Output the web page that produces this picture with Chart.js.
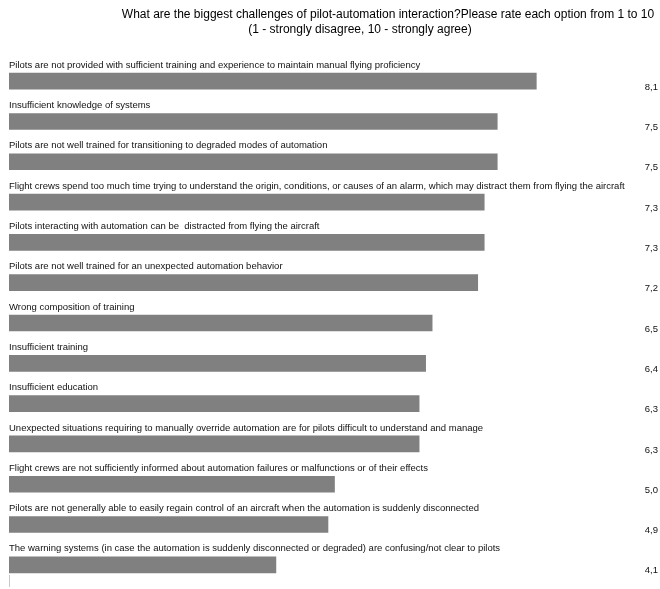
<!DOCTYPE html>
<html>
<head>
<meta charset="utf-8">
<script src="https://cdn.jsdelivr.net/npm/chart.js@4.4.0/dist/chart.umd.min.js"></script>
<style>
  html, body { margin: 0; padding: 0; background: #fff; }
  #wrap { width: 660px; height: 589px; position: relative; }
</style>
</head>
<body>
<div id="wrap"><canvas id="chart"></canvas></div>
<script>
const titleLines = [
    "What are the biggest challenges of pilot-automation interaction?Please rate each option from 1 to 10",
    "(1 - strongly disagree, 10 - strongly agree)"
];

const categories = [
    "Pilots are not provided with sufficient training and experience to maintain manual flying proficiency",
    "Insufficient knowledge of systems",
    "Pilots are not well trained for transitioning to degraded modes of automation",
    "Flight crews spend too much time trying to understand the origin, conditions, or causes of an alarm, which may distract them from flying the aircraft",
    "Pilots interacting with automation can be  distracted from flying the aircraft",
    "Pilots are not well trained for an unexpected automation behavior",
    "Wrong composition of training",
    "Insufficient training",
    "Insufficient education",
    "Unexpected situations requiring to manually override automation are for pilots difficult to understand and manage",
    "Flight crews are not sufficiently informed about automation failures or malfunctions or of their effects",
    "Pilots are not generally able to easily regain control of an aircraft when the automation is suddenly disconnected",
    "The warning systems (in case the automation is suddenly disconnected or degraded) are confusing/not clear to pilots"
];

const ratings = [8.1, 7.5, 7.5, 7.3, 7.3, 7.2, 6.5, 6.4, 6.3, 6.3, 5.0, 4.9, 4.1];

const barColor = "#808080";

// category text above each bar, value at the right, title on top
const labelPlugin = {
    id: "labelPlugin",
    afterDatasetsDraw(chart) {
        const ctx = chart.ctx;
        const meta = chart.getDatasetMeta(0);
        const area = chart.chartArea;
        ctx.save();

        ctx.fillStyle = "#000";
        ctx.font = "12px 'Liberation Sans', Arial, sans-serif";
        ctx.textAlign = "center";
        ctx.textBaseline = "middle";
        ctx.fillText(titleLines[0], 388, 15);
        ctx.fillText(titleLines[1], 360, 30);

        ctx.font = "9.5px 'Liberation Sans', Arial, sans-serif";
        meta.data.forEach((bar, i) => {
            ctx.fillStyle = "#111";
            ctx.textAlign = "left";
            ctx.fillText(categories[i], area.left, bar.y - 16);
            ctx.textAlign = "right";
            ctx.fillText(ratings[i].toFixed(1).replace(".", ","), 658, bar.y + 6);
        });

        // short axis stub under the last bar
        ctx.strokeStyle = "#c8c8c8";
        ctx.lineWidth = 1;
        ctx.beginPath();
        ctx.moveTo(area.left + 0.5, area.bottom - 10);
        ctx.lineTo(area.left + 0.5, area.bottom + 2);
        ctx.stroke();

        ctx.restore();
    }
};

new Chart(document.getElementById("chart"), {
    type: "bar",
    plugins: [labelPlugin],
    data: {
        labels: categories,
        datasets: [{
            data: ratings,
            backgroundColor: barColor,
            barThickness: 16,
        }],
    },
    options: {
        indexAxis: "y",
        responsive: true,
        maintainAspectRatio: false,
        animation: false,
        layout: { padding: { left: 9, right: 0, top: 61, bottom: 4 } },
        plugins: {
            legend: { display: false },
            tooltip: { enabled: false },
            title: { display: false },
        },
        scales: {
            x: { display: false, min: 0, max: 10 },
            y: { display: false },
        },
    },
});
</script>
</body>
</html>
